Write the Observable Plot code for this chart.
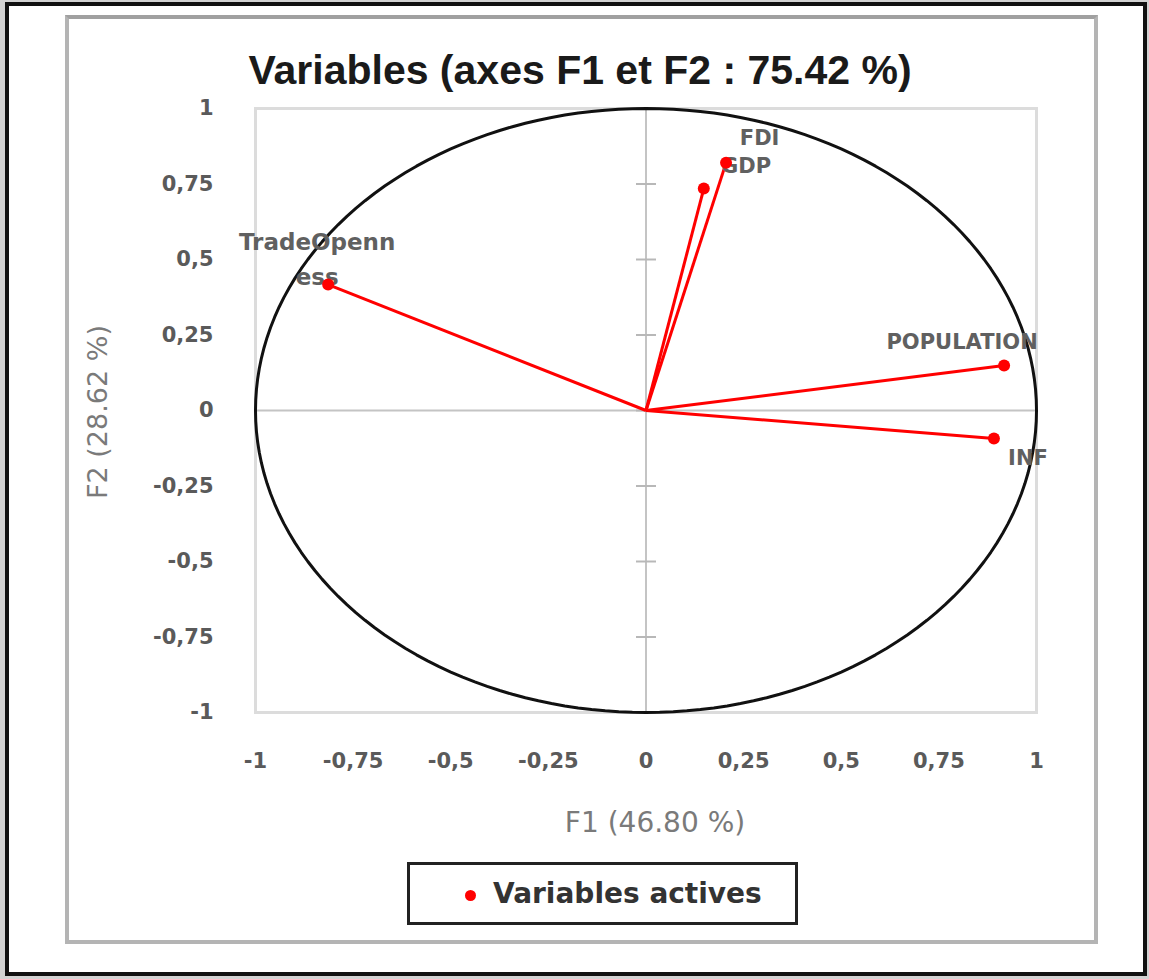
<!DOCTYPE html>
<html><head><meta charset="utf-8">
<script src="https://cdn.jsdelivr.net/npm/d3@7"></script>
<script src="https://cdn.jsdelivr.net/npm/@observablehq/plot@0.6"></script>
<style>
body{margin:0;background:#d2d2d2;}
#page{position:relative;width:1149px;height:979px;overflow:hidden;background:#d2d2d2;}
#outer{position:absolute;left:5px;top:2px;width:1142px;height:974px;box-sizing:border-box;border:4px solid #111;background:#fff;}
#inner{position:absolute;left:65px;top:15px;width:1033px;height:929px;box-sizing:border-box;border:4px solid #b4b4b4;border-top-color:#a0a0a0;background:#fff;}
#chart{position:absolute;left:0;top:0;}
#title{position:absolute;left:580px;top:50px;transform:translateX(-50%);white-space:nowrap;font-family:"Liberation Sans",Arial,sans-serif;font-weight:bold;font-size:41px;line-height:1;color:#1a1a1a;}
#xlabel{position:absolute;left:655px;top:823px;transform:translate(-50%,-50%);white-space:nowrap;font-family:"DejaVu Sans",sans-serif;font-size:28px;line-height:1;color:#7a7a7a;}
#ylabel{position:absolute;left:97px;top:412px;transform:translate(-50%,-50%) rotate(-90deg);white-space:nowrap;font-family:"DejaVu Sans",sans-serif;font-size:27px;line-height:1;color:#7a7a7a;}
#legend{position:absolute;left:407px;top:862px;width:391px;height:63px;box-sizing:border-box;border:3px solid #222;background:#fff;}
#legend .dot{position:absolute;left:55px;top:25px;width:11px;height:11px;border-radius:50%;background:#ff0000;}
#legend .txt{position:absolute;left:83px;top:50%;transform:translateY(-50%);white-space:nowrap;font-family:"DejaVu Sans",sans-serif;font-weight:bold;font-size:28px;line-height:1;color:#333;}
</style></head><body>
<div id="page">
  <div id="outer"></div>
  <div id="inner"></div>
  <div id="chart"></div>
  <div id="title"></div>
  <div id="xlabel"></div>
  <div id="ylabel"></div>
  <div id="legend"><span class="dot"></span><span class="txt"></span></div>
</div>
<script>
// ---- data ----
const variables = ["TradeOpenness", "FDI", "GDP", "POPULATION", "INF"];
const f1 = [-0.814, 0.148, 0.205, 0.917, 0.891];
const f2 = [0.417, 0.735, 0.820, 0.149, -0.093];
const axisTicks = [-1, -0.75, -0.5, -0.25, 0, 0.25, 0.5, 0.75, 1];
const titleText = "Variables (axes F1 et F2 : 75.42 %)";
const xLabelText = "F1 (46.80 %)";
const yLabelText = "F2 (28.62 %)";
const legendText = "Variables actives";

document.getElementById("title").textContent = titleText;
document.getElementById("xlabel").textContent = xLabelText;
document.getElementById("ylabel").textContent = yLabelText;
document.querySelector("#legend .txt").textContent = legendText;

const rows = variables.map((v, i) => ({name: v, f1: f1[i], f2: f2[i]}));
// unit correlation circle (geometry, not data)
const circle = d3.range(0, 361, 2).map(a => ({cx: Math.cos(a * Math.PI / 180), cy: Math.sin(a * Math.PI / 180)}));
const fmt = d => String(d).replace(".", ",");
const display = d => d.name === "TradeOpenness" ? "TradeOpenn\ness" : d.name;

// label placement (styling, kept out of data arrays)
const place = {
  TradeOpenness: {dx: -11, dy: -28, textAnchor: "middle", fontSize: 23},
  FDI: {dx: 36, dy: -54, textAnchor: "start"},
  GDP: {dx: -5, dy: 0, textAnchor: "start"},
  POPULATION: {dx: -42, dy: -27, textAnchor: "middle"},
  INF: {dx: 34, dy: 16, textAnchor: "middle"}
};
const labelMarks = variables.map(v => Plot.text(rows.filter(r => r.name === v), {
  x: "f1", y: "f2", text: display, lineAnchor: "middle", lineHeight: 1.5,
  fill: "#606060", ...place[v]
}));

const hTick = {draw(ctx, size) { const r = Math.sqrt(size / Math.PI); ctx.moveTo(-r, 0); ctx.lineTo(r, 0); }};

const chart = Plot.plot({
  width: 1149, height: 979,
  marginLeft: 255, marginRight: 113, marginTop: 108, marginBottom: 267,
  style: {background: "transparent", fontFamily: "DejaVu Sans, sans-serif", fontSize: "21px", fontWeight: "bold", color: "#5a5a5a"},
  x: {domain: [-1, 1], label: null},
  y: {domain: [-1, 1], label: null},
  marks: [
    Plot.frame({stroke: "#dcdcdc", strokeWidth: 3}),
    Plot.ruleX([0], {stroke: "#c4c4c4", strokeWidth: 2}),
    Plot.ruleY([0], {stroke: "#c4c4c4", strokeWidth: 2}),
    Plot.dot(axisTicks, {x: 0, y: d => d, symbol: hTick, r: 10, stroke: "#b8b8b8", strokeWidth: 2, fill: "none"}),
    Plot.axisX(axisTicks, {tickSize: 0, tickPadding: 41, tickFormat: fmt, label: null}),
    Plot.axisY(axisTicks, {tickSize: 0, tickPadding: 42, tickFormat: fmt, label: null}),
    Plot.line(circle, {x: "cx", y: "cy", stroke: "#111", strokeWidth: 3}),
    Plot.link(rows, {x1: 0, y1: 0, x2: "f1", y2: "f2", stroke: "#ff0000", strokeWidth: 3}),
    ...labelMarks,
    Plot.dot(rows, {x: "f1", y: "f2", r: 6, fill: "#ff0000"})
  ]
});
document.getElementById("chart").appendChild(chart);
</script>
</body></html>
